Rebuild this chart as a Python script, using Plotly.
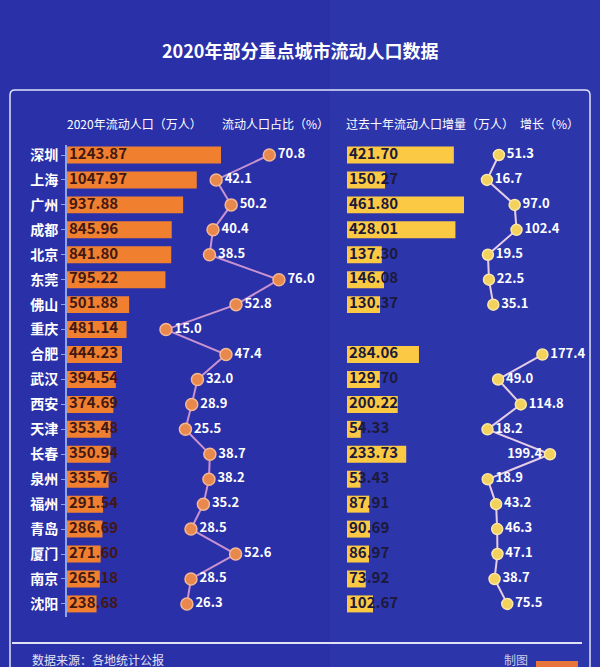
import plotly.graph_objects as go

# ---------------- data ----------------
cities = ["深圳", "上海", "广州", "成都", "北京", "东莞", "佛山", "重庆", "合肥", "武汉",
          "西安", "天津", "长春", "泉州", "福州", "青岛", "厦门", "南京", "沈阳"]
pop_2020 = [1243.87, 1047.97, 937.88, 845.96, 841.80, 795.22, 501.88, 481.14, 444.23, 394.54,
            374.69, 353.48, 350.94, 335.76, 291.54, 286.69, 271.60, 265.18, 238.68]
share_pct = [70.8, 42.1, 50.2, 40.4, 38.5, 76.0, 52.8, 15.0, 47.4, 32.0,
             28.9, 25.5, 38.7, 38.2, 35.2, 28.5, 52.6, 28.5, 26.3]
increase_10y = [421.70, 150.27, 461.80, 428.01, 137.30, 146.08, 130.37, None, 284.06, 129.70,
                200.22, 54.33, 233.73, 53.43, 87.91, 90.69, 86.97, 73.92, 102.67]
growth_pct = [51.3, 16.7, 97.0, 102.4, 19.5, 22.5, 35.1, None, 177.4, 49.0,
              114.8, 18.2, 199.4, 18.9, 43.2, 46.3, 47.1, 38.7, 75.5]

title_text = "2020年部分重点城市流动人口数据"
headers = ["2020年流动人口（万人）", "流动人口占比（%）", "过去十年流动人口增量（万人）", "增长（%）"]
source_text = "数据来源：各地统计公报"
credit_text = "制图"

W, H = 600, 667
FONT = "Noto Sans CJK SC"
BG = "#2a30a8"


def px(x):
    return x / W


def py(y):
    return 1 - y / H


fig = go.Figure()

# axis geometry (pixel-based)
x_start = 67
span = W - x_start
dom = [x_start / W, 1]
k_left = 154 / 1243.87
k_right = 117 / 461.8
text_pad_px = 2


def axis_range(zero_px, px_per_unit):
    r0 = -(zero_px - x_start) / px_per_unit
    return [r0, r0 + span / px_per_unit]


# left bars
fig.add_trace(go.Bar(
    y=cities, x=pop_2020, orientation="h", xaxis="x", yaxis="y",
    marker=dict(color="#f07f30", line=dict(width=0)), width=0.68,
    hoverinfo="skip", showlegend=False))
fig.add_trace(go.Scatter(
    y=cities, x=[text_pad_px / k_left] * len(cities), mode="text", xaxis="x", yaxis="y",
    text=[f"{v:.2f}" for v in pop_2020], textposition="middle right",
    textfont=dict(family=FONT, size=15, color="#421812", weight="bold"),
    hoverinfo="skip", showlegend=False, cliponaxis=False))

# share line
fig.add_trace(go.Scatter(
    y=cities, x=share_pct, mode="lines+markers+text", xaxis="x2", yaxis="y",
    line=dict(color="#c993d0", width=2),
    marker=dict(size=12, color="#e8884c", line=dict(color="#f3b795", width=1.5)),
    text=[f"{v:.1f}" for v in share_pct], textposition="middle right",
    textfont=dict(family=FONT, size=13, color="white", weight="bold"),
    hoverinfo="skip", showlegend=False, cliponaxis=False))

# right bars
fig.add_trace(go.Bar(
    y=cities, x=increase_10y, orientation="h", xaxis="x3", yaxis="y",
    marker=dict(color="#fbc944", line=dict(width=0)), width=0.68,
    hoverinfo="skip", showlegend=False))
fig.add_trace(go.Scatter(
    y=cities, x=[text_pad_px / k_right if v is not None else None for v in increase_10y],
    mode="text", xaxis="x3", yaxis="y",
    text=[f"{v:.2f}" if v is not None else "" for v in increase_10y], textposition="middle right",
    textfont=dict(family=FONT, size=15, color="#1c1a3a", weight="bold"),
    hoverinfo="skip", showlegend=False, cliponaxis=False))

# growth line
gpos = ["middle left" if (v is not None and v > 190) else "middle right" for v in growth_pct]
fig.add_trace(go.Scatter(
    y=cities, x=growth_pct, mode="lines+markers+text", xaxis="x4", yaxis="y",
    connectgaps=False,
    line=dict(color="#e6cde6", width=2),
    marker=dict(size=11, color="#f2d15c", line=dict(color="#fae7a8", width=1.5)),
    text=[f"{v:.1f}" if v is not None else "" for v in growth_pct], textposition=gpos,
    textfont=dict(family=FONT, size=13, color="white", weight="bold"),
    hoverinfo="skip", showlegend=False, cliponaxis=False))

shapes = [
    # subtle lighter right half of background
    dict(type="rect", xref="paper", yref="paper", x0=px(330), x1=1, y0=0, y1=1,
         fillcolor="rgba(70,90,200,0.12)", line=dict(width=0), layer="below"),
    # frame
    dict(type="path", xref="paper", yref="paper",
         path=f"M {px(10)} {py(720)} L {px(10)} {py(95)} Q {px(10)} {py(90)} {px(15)} {py(90)} "
              f"L {px(585)} {py(90)} Q {px(590)} {py(90)} {px(590)} {py(95)} L {px(590)} {py(720)}",
         line=dict(color="#dfe2f7", width=1.5)),
    # separator
    dict(type="line", xref="paper", yref="paper", x0=px(12), x1=px(582), y0=py(643), y1=py(643),
         line=dict(color="#dfe2f7", width=2)),
    # small orange tag bottom right
    dict(type="rect", xref="paper", yref="paper", x0=px(536), x1=px(578), y0=py(661), y1=py(680),
         fillcolor="#e8763a", line=dict(width=0)),
]

annotations = [
    dict(text=title_text, x=0.5, y=py(50), xref="paper", yref="paper", showarrow=False,
         xanchor="center", yanchor="middle",
         font=dict(family=FONT, size=18, color="white", weight="bold")),
    dict(text=source_text, x=px(30), y=py(659), xref="paper", yref="paper", showarrow=False,
         xanchor="left", yanchor="middle", font=dict(family=FONT, size=12, color="#e0e3f5")),
    dict(text=credit_text, x=px(530), y=py(659), xref="paper", yref="paper", showarrow=False,
         xanchor="right", yanchor="middle", font=dict(family=FONT, size=12, color="#c8cce8")),
]
for txt, cx in zip(headers, [134, 275, 430, 549]):
    annotations.append(dict(text=txt, x=px(cx), y=py(123), xref="paper", yref="paper",
                            xanchor="center", yanchor="middle",
                            showarrow=False, font=dict(family=FONT, size=12, color="white")))

ytop, ybot = 145, 617
row0, rowstep = 155, 24.94
n_dom = ybot - ytop
t = -(row0 - ytop) / rowstep
b = t + n_dom / rowstep

hidden = dict(visible=False, fixedrange=True)
fig.update_layout(
    width=W, height=H, margin=dict(l=0, r=0, t=0, b=0),
    paper_bgcolor=BG, plot_bgcolor="rgba(0,0,0,0)",
    barmode="overlay", showlegend=False, hovermode=False,
    xaxis=dict(domain=dom, range=axis_range(67, k_left), **hidden),
    xaxis2=dict(overlaying="x", anchor="y", range=axis_range(138.2, 1.852), **hidden),
    xaxis3=dict(overlaying="x", anchor="y", range=axis_range(347, k_right), **hidden),
    xaxis4=dict(overlaying="x", anchor="y", range=axis_range(481.2, 0.345), **hidden),
    yaxis=dict(domain=[py(ybot), py(ytop)], range=[b, t], type="category",
               showline=True, linecolor="#8da6ea", linewidth=2,
               ticks="outside", ticklen=4, tickcolor="#8da6ea", tickwidth=1,
               showgrid=False, zeroline=False, anchor="x", fixedrange=True,
               tickfont=dict(family=FONT, size=14, color="white", weight="bold")),
    shapes=shapes, annotations=annotations,
)

fig.write_html("out.html", config={"displayModeBar": False, "staticPlot": True},
               post_script="document.body.style.margin='0';document.body.style.background='" + BG + "';")
